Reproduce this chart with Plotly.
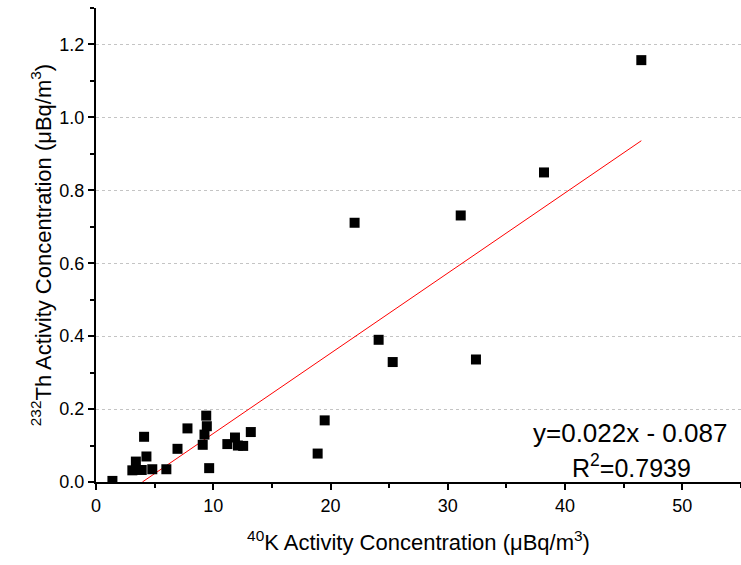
import plotly.graph_objects as go

k40 = [1.4, 3.1, 3.4, 3.9, 4.1, 4.3, 4.8, 6.0, 6.95, 7.8, 9.4, 9.45, 9.25, 9.1, 9.65,
       11.2, 11.85, 12.1, 12.55, 13.2, 18.9, 19.5, 22.05, 24.1, 25.3, 31.1, 32.4, 38.2, 46.5]
th232 = [0.003, 0.032, 0.056, 0.033, 0.124, 0.070, 0.035, 0.035, 0.091, 0.147, 0.182, 0.153,
         0.130, 0.102, 0.038, 0.104, 0.122, 0.100, 0.099, 0.137, 0.078, 0.169, 0.711, 0.390,
         0.329, 0.731, 0.336, 0.849, 1.157]
slope = 0.022
intercept = -0.087
fit_x = [-intercept / slope, 46.5]
fit_y = [slope * v + intercept for v in fit_x]

fig = go.Figure()
fig.add_trace(go.Scatter(x=fit_x, y=fit_y, mode="lines",
                         line=dict(color="red", width=1), showlegend=False))
fig.add_trace(go.Scatter(x=k40, y=th232, mode="markers",
                         marker=dict(symbol="square", size=10, color="black"),
                         showlegend=False))

font = "Liberation Sans, Arial, sans-serif"
fig.update_layout(
    width=741, height=565,
    margin=dict(l=96, r=0, t=8, b=83),
    plot_bgcolor="white", paper_bgcolor="white",
    font=dict(family=font, color="black", size=18),
    xaxis=dict(range=[0, 55], tickvals=[0, 10, 20, 30, 40, 50],
               showline=True, linecolor="black", linewidth=2,
               ticks="outside", ticklen=6, tickwidth=1.5, tickcolor="black",
               minor=dict(dtick=5, ticks="outside", ticklen=4, tickwidth=1.5, tickcolor="black", showgrid=False),
               showgrid=False, zeroline=False,
               tickfont=dict(size=18),
               title=dict(text="<sup>40</sup>K Activity Concentration (μBq/m<sup>3</sup>)",
                          font=dict(size=22), standoff=20)),
    yaxis=dict(range=[0, 1.3], tickvals=[0, 0.2, 0.4, 0.6, 0.8, 1.0, 1.2], tickformat=".1f",
               showline=True, linecolor="black", linewidth=2,
               ticks="outside", ticklen=6, tickwidth=1.5, tickcolor="black",
               minor=dict(dtick=0.1, ticks="outside", ticklen=4, tickwidth=1.5, tickcolor="black", showgrid=False),
               showgrid=True, gridcolor="#c4c4c4", griddash="dot", gridwidth=1,
               zeroline=False, tickfont=dict(size=18),
               title=dict(text="<sup>232</sup>Th Activity Concentration (μBq/m<sup>3</sup>)",
                          font=dict(size=22), standoff=2)),
    annotations=[
        dict(x=45.5, y=0.135, xref="x", yref="y", showarrow=False, xanchor="center", yanchor="middle",
             text="y=0.022x - 0.087", font=dict(size=26)),
        dict(x=45.7, y=0.045, xref="x", yref="y", showarrow=False, xanchor="center", yanchor="middle",
             text="R<sup>2</sup>=0.7939", font=dict(size=25)),
    ],
)
fig.write_html("out.html")
